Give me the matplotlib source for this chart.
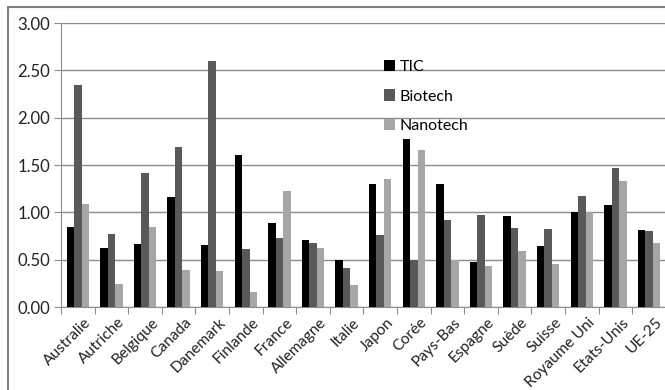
import numpy as np
import matplotlib
matplotlib.use("Agg")
import matplotlib.pyplot as plt
import matplotlib.transforms as mtrans
from matplotlib.patches import Rectangle

# data
pays = ["Australie", "Autriche", "Belgique", "Canada", "Danemark", "Finlande",
        "France", "Allemagne", "Italie", "Japon", "Corée", "Pays-Bas", "Espagne",
        "Suède", "Suisse", "Royaume Uni", "Etats-Unis", "UE-25"]
tic = [0.85, 0.62, 0.67, 1.16, 0.66, 1.61, 0.89, 0.71, 0.50, 1.30,
       1.77, 1.30, 0.48, 0.96, 0.64, 1.00, 1.08, 0.81]
biotech = [2.34, 0.77, 1.42, 1.69, 2.60, 0.61, 0.73, 0.68, 0.41, 0.76,
           0.50, 0.92, 0.975, 0.83, 0.82, 1.17, 1.47, 0.80]
nanotech = [1.09, 0.24, 0.85, 0.39, 0.38, 0.16, 1.23, 0.62, 0.23, 1.35,
            1.66, 0.50, 0.43, 0.59, 0.45, 1.00, 1.33, 0.68]
series = ["TIC", "Biotech", "Nanotech"]
couleurs = ["#000000", "#595959", "#a6a6a6"]

plt.rcParams['font.family'] = ['Lato', 'DejaVu Sans']

fig = plt.figure(figsize=(6.65, 3.9), dpi=100)
# chart border
fig.patches.append(Rectangle((8/665, -0.05), 1.1, 1 - 7/390 + 0.05,
                             transform=fig.transFigure, fill=False,
                             edgecolor="#7f7f7f", linewidth=1.5))
ax = fig.add_axes([61/665, 1 - 307/390, 18*33.6/665, 284/390])

x = np.arange(len(pays))
w = 0.222
for i, (vals, nom, c) in enumerate(zip([tic, biotech, nanotech], series, couleurs)):
    ax.bar(x + (i - 1)*w, vals, width=w, color=c, label=nom, zorder=3)

ax.set_xlim(-0.5, len(pays) - 0.5)
ax.set_ylim(0, 3)
ax.set_yticks(np.arange(0, 3.01, 0.5))
ax.set_yticklabels(["%.2f" % v for v in np.arange(0, 3.01, 0.5)], fontsize=12, color="#222222")
ax.yaxis.grid(True, color="#8c8c8c", linewidth=1, zorder=0)
ax.tick_params(axis="y", length=5, color="#8c8c8c", pad=3)

ax.set_xticks(np.arange(-0.5, len(pays), 1))
ax.set_xticklabels([])
ax.set_xticks(x, minor=True)
ax.set_xticklabels(pays, minor=True, rotation=45, ha="right", va="top",
                   rotation_mode="anchor", fontsize=11.2, color="#222222")
ax.tick_params(axis="x", which="major", length=5, color="#8c8c8c")
ax.tick_params(axis="x", which="minor", length=0, pad=6)
decal = mtrans.ScaledTranslation(6/100, 0, fig.dpi_scale_trans)
for lab in ax.get_xticklabels(minor=True):
    lab.set_transform(lab.get_transform() + decal)

for s in ["top", "right"]:
    ax.spines[s].set_visible(False)
for s in ["left", "bottom"]:
    ax.spines[s].set_color("#8c8c8c")

ax.legend(loc="upper left", bbox_to_anchor=(0.51, 0.92), frameon=False,
          fontsize=11.5, handlelength=0.7, handleheight=0.7, handletextpad=0.3,
          labelspacing=0.95)

fig.savefig("out.png", dpi=100)
